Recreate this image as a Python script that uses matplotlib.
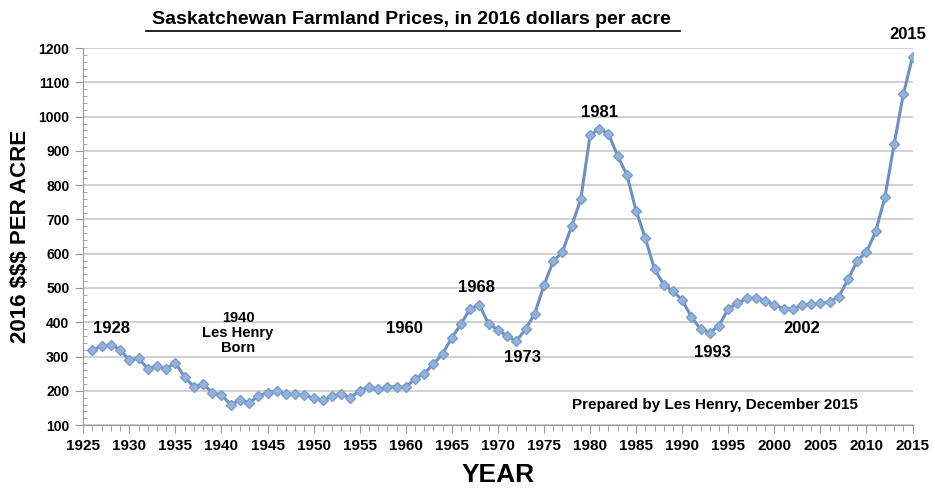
import matplotlib
matplotlib.use("Agg")
import matplotlib.pyplot as plt
from matplotlib.ticker import MultipleLocator

# data
years = list(range(1926, 2016))
price = [320, 330, 335, 320, 290, 295, 265, 272, 265, 282,
         240, 212, 220, 195, 188, 160, 172, 165, 185, 195,
         200, 190, 190, 188, 178, 172, 185, 190, 180, 200,
         212, 205, 210, 212, 210, 235, 250, 278, 308, 355,
         395, 440, 450, 395, 378, 360, 345, 380, 425, 508,
         578, 605, 680, 760, 945, 965, 950, 885, 830, 725,
         645, 555, 510, 490, 465, 415, 380, 370, 390, 440,
         455, 470, 470, 462, 450, 440, 438, 450, 452, 455,
         460, 475, 525, 580, 605, 665, 765, 920, 1065, 1175]

labels = [(1928.1, 383, "1928", 12), (1941.8, 369, "1940\nLes Henry\nBorn", 10.5),
          (1959.9, 383, "1960", 12), (1967.7, 500, "1968", 12),
          (1972.7, 298, "1973", 12), (1981.0, 1013, "1981", 12),
          (1993.3, 313, "1993", 12), (2003.0, 383, "2002", 12),
          (2014.5, 1241, "2015", 12)]

fig = plt.figure(figsize=(9.35, 4.96), dpi=100)
ax = fig.add_axes([0.089, 0.143, 0.887, 0.76])

ax.plot(years, price, color="#6f8fbd", lw=2.2, marker="D", ms=5,
        mfc="#93b2dc", mec="#7b9ccb", zorder=3)

ax.set_xlim(1925, 2015)
ax.set_ylim(100, 1200)
ax.xaxis.set_major_locator(MultipleLocator(5))
ax.xaxis.set_minor_locator(MultipleLocator(1))
ax.yaxis.set_major_locator(MultipleLocator(100))
ax.yaxis.set_minor_locator(MultipleLocator(20))
ax.grid(axis="y", color="#c8c8c8", lw=1.2)
ax.set_axisbelow(True)

for s in ["top", "right"]:
    ax.spines[s].set_visible(False)
for s in ["left", "bottom"]:
    ax.spines[s].set_color("#9a9a9a")
ax.tick_params(which="both", color="#9a9a9a")
ax.tick_params(axis="x", which="major", length=6, direction="out", pad=4)
ax.tick_params(axis="x", which="minor", length=4, direction="out")
ax.tick_params(axis="y", which="major", length=6, direction="out", pad=4)
ax.tick_params(axis="y", which="minor", length=3, direction="in")

for t in ax.get_xticklabels():
    t.set_fontfamily("Liberation Sans")
    t.set_fontweight("bold")
    t.set_fontsize(11)
for t in ax.get_yticklabels():
    t.set_fontfamily("Liberation Sans")
    t.set_fontweight("bold")
    t.set_fontsize(10)

ax.set_xlabel("YEAR", fontsize=19, fontweight="bold",
              fontfamily="Liberation Sans", labelpad=7)
ax.set_ylabel("2016 $$$ PER ACRE", fontsize=16, fontweight="bold",
              fontfamily="Liberation Sans", labelpad=5)

for x, y, s, fs in labels:
    ax.text(x, y, s, ha="center", va="center", fontsize=fs, fontweight="bold",
            fontfamily="Liberation Sans", linespacing=1.1, clip_on=False)

ax.text(1993.5, 158, "Prepared by Les Henry, December 2015", ha="center",
        va="center", fontsize=11, fontweight="bold", fontfamily="Liberation Sans")

fig.text(0.44, 0.96, "Saskatchewan Farmland Prices, in 2016 dollars per acre",
         ha="center", va="center", fontsize=14, fontweight="bold",
         fontfamily="Liberation Sans")
fig.add_artist(plt.Line2D([0.156, 0.727], [0.938, 0.938], color="black", lw=1.2))

fig.savefig("out.png", dpi=100)
